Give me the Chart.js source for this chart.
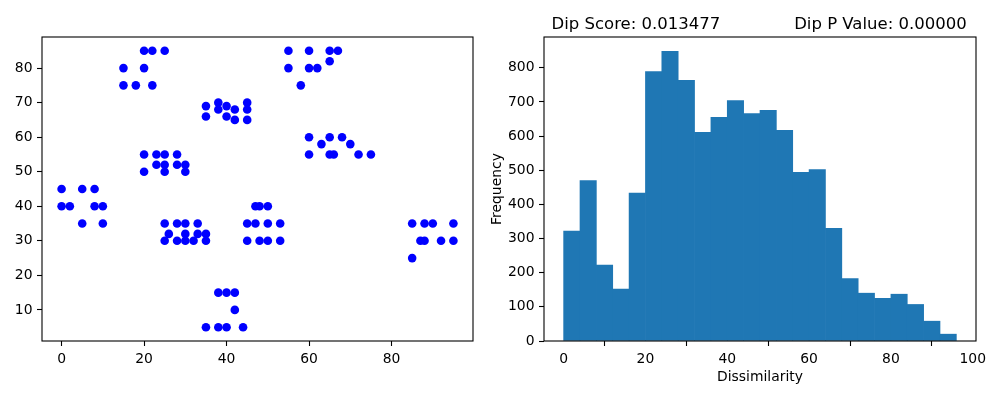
<!DOCTYPE html>
<html>
<head>
<meta charset="utf-8">
<script src="https://cdn.jsdelivr.net/npm/chart.js@4"></script>
<style>
  body { margin: 0; background: #fff; }
  #wrap { position: relative; width: 1000px; height: 400px; }
  canvas { position: absolute; top: 0; }
  #scatter { left: 0; }
  #hist { left: 485px; }
</style>
</head>
<body>
<div id="wrap">
  <canvas id="scatter" width="485" height="400"></canvas>
  <canvas id="hist" width="515" height="400"></canvas>
</div>
<script>
// scatter points
const pointsX = [
  0, 0, 2, 5, 5, 8, 8, 10, 10,
  20, 22, 25, 15, 20, 15, 18, 22,
  20, 23, 25, 28, 23, 25, 28, 30, 20, 25, 30,
  35, 35, 38, 38, 40, 40, 42, 42, 45, 45, 45,
  55, 60, 65, 67, 65, 55, 60, 62, 58,
  60, 63, 65, 68, 70, 60, 65, 66, 72, 75,
  25, 28, 30, 33, 26, 30, 33, 35, 25, 28, 30, 32, 35,
  38, 40, 42, 42, 35, 38, 40, 44,
  47, 48, 50, 45, 47, 50, 53, 45, 48, 50, 53,
  85, 88, 90, 95, 87, 88, 92, 95, 85
];
const pointsY = [
  45, 40, 40, 45, 35, 45, 40, 40, 35,
  85, 85, 85, 80, 80, 75, 75, 75,
  55, 55, 55, 55, 52, 52, 52, 52, 50, 50, 50,
  69, 66, 70, 68, 69, 66, 68, 65, 70, 68, 65,
  85, 85, 85, 85, 82, 80, 80, 80, 75,
  60, 58, 60, 60, 58, 55, 55, 55, 55, 55,
  35, 35, 35, 35, 32, 32, 32, 32, 30, 30, 30, 30, 30,
  15, 15, 15, 10, 5, 5, 5, 5,
  40, 40, 40, 35, 35, 35, 35, 30, 30, 30, 30,
  35, 35, 35, 35, 30, 30, 30, 30, 25
];
const scatterXTicks = [0, 20, 40, 60, 80];
const scatterYTicks = [10, 20, 30, 40, 50, 60, 70, 80];

// histogram of dissimilarities, bins of width 4
const binCenters = [2, 6, 10, 14, 18, 22, 26, 30, 34, 38, 42, 46,
  50, 54, 58, 62, 66, 70, 74, 78, 82, 86, 90, 94];
const frequency = [322, 470, 222, 152, 433, 789, 848, 763, 611, 655, 704, 666,
  675, 617, 494, 502, 330, 183, 140, 125, 137, 107, 58, 20];
const histXTicks = [0, 20, 40, 60, 80, 100];
const histYTicks = [0, 100, 200, 300, 400, 500, 600, 700, 800];

const dipScore = "Dip Score: 0.013477";
const dipP = "Dip P Value: 0.00000";

const tickFont = { family: "DejaVu Sans", size: 13.9 };

const frame = {
  id: "frame",
  afterDatasetsDraw(chart) {
    const a = chart.chartArea;
    const ctx = chart.ctx;
    ctx.save();
    ctx.strokeStyle = "#000";
    ctx.lineWidth = 1.1;
    ctx.strokeRect(a.left, a.top, a.right - a.left, a.bottom - a.top);
    ctx.restore();
  }
};

const dipTitle = {
  id: "dipTitle",
  afterDraw(chart) {
    const a = chart.chartArea;
    const ctx = chart.ctx;
    ctx.save();
    ctx.fillStyle = "#000";
    ctx.font = "16.5px 'DejaVu Sans'";
    ctx.textBaseline = "alphabetic";
    ctx.textAlign = "left";
    ctx.fillText(dipScore, a.left + 7.5, 29);
    ctx.textAlign = "right";
    ctx.fillText(dipP, a.right - 9.3, 29);
    ctx.restore();
  }
};

function axis(min, max, ticks, size, isX, title) {
  const opt = {
    type: "linear",
    min: min,
    max: max,
    offset: false,
    border: { display: false },
    grid: {
      drawOnChartArea: false,
      drawTicks: true,
      tickLength: 5,
      tickColor: "#000",
      tickWidth: 1.1
    },
    ticks: { color: "#000", font: tickFont, padding: isX ? 5.5 : 4.5, maxRotation: 0 },
    afterBuildTicks(scale) {
      scale.ticks = ticks.map(v => ({ value: v }));
    },
    afterFit(scale) {
      if (isX) scale.height = size;
      else scale.width = size;
    }
  };
  if (title) {
    opt.title = {
      display: true,
      text: title,
      color: "#000",
      font: tickFont,
      padding: isX ? { top: 0, bottom: 14.4 } : { top: 3.7, bottom: 0 }
    };
  }
  return opt;
}

const scatterData = pointsX.map((x, i) => ({ x: x, y: pointsY[i] }));

new Chart(document.getElementById("scatter"), {
  type: "scatter",
  data: {
    datasets: [{
      data: scatterData,
      backgroundColor: "#0000ff",
      borderColor: "#0000ff",
      borderWidth: 0,
      pointRadius: 4.3,
      pointHoverRadius: 4.3
    }]
  },
  options: {
    responsive: false,
    animation: false,
    layout: { padding: { left: 0, top: 37, right: 12, bottom: 0 } },
    plugins: { legend: { display: false }, tooltip: { enabled: false } },
    scales: {
      x: axis(-4.75, 99.75, scatterXTicks, 59, true),
      y: axis(1, 89, scatterYTicks, 42, false)
    }
  },
  plugins: [frame]
});

const histData = binCenters.map((c, i) => ({ x: c, y: frequency[i] }));

new Chart(document.getElementById("hist"), {
  type: "bar",
  data: {
    datasets: [{
      data: histData,
      backgroundColor: "#1f77b4",
      borderWidth: 0,
      barPercentage: 1.0,
      categoryPercentage: 1.0
    }]
  },
  options: {
    responsive: false,
    animation: false,
    layout: { padding: { left: 0, top: 37, right: 24, bottom: 0 } },
    plugins: { legend: { display: false }, tooltip: { enabled: false } },
    scales: {
      x: axis(-4.8, 100.8, histXTicks, 59, true, "Dissimilarity"),
      y: axis(0, 890, histYTicks, 59, false, "Frequency")
    }
  },
  plugins: [frame, dipTitle]
});
</script>
</body>
</html>
